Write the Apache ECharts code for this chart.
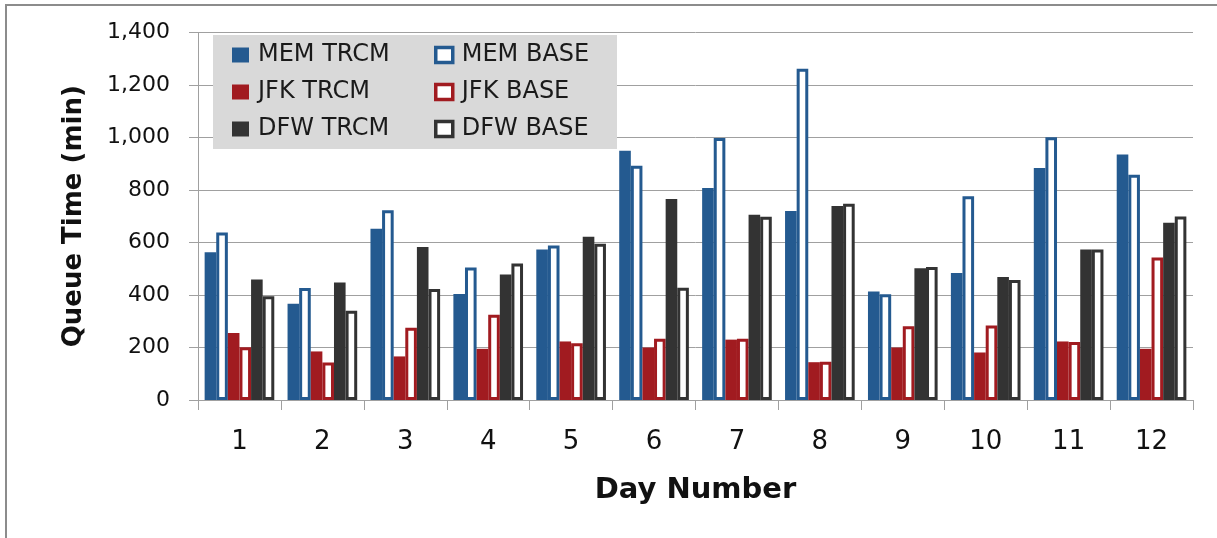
<!DOCTYPE html>
<html>
<head>
<meta charset="utf-8">
<script src="https://cdn.jsdelivr.net/npm/echarts@6/dist/echarts.min.js"></script>
<style>html,body{margin:0;padding:0;background:#fff;}#c{width:1217px;height:538px;}</style>
</head>
<body>
<div id="c"></div>
<script>
var days = ['1','2','3','4','5','6','7','8','9','10','11','12'];
var memTrcm = [563, 367, 652, 404, 573, 950, 808, 720, 413, 484, 884, 935];
var memBase = [638, 427, 723, 505, 589, 892, 998, 1262, 403, 776, 1001, 858];
var jfkTrcm = [255, 185, 166, 195, 223, 200, 230, 144, 200, 181, 223, 195];
var jfkBase = [201, 143, 275, 325, 216, 233, 233, 146, 281, 284, 221, 543];
var dfwTrcm = [459, 448, 583, 478, 622, 766, 706, 739, 502, 469, 573, 675];
var dfwBase = [395, 340, 423, 520, 595, 428, 698, 748, 507, 457, 573, 699];
var yTicks = [0, 200, 400, 600, 800, 1000, 1200, 1400];

var BLUE = '#245a90', RED = '#a11b20', DARK = '#333333';
var FONT = 'DejaVu Sans';

function filled(name, data, color) {
  return { name: name, type: 'bar', data: data, barGap: '0%', barCategoryGap: '16%',
    itemStyle: { color: color } };
}
function outlined(name, data, color) {
  return { name: name, type: 'bar', data: data, barGap: '0%', barCategoryGap: '16%',
    itemStyle: { color: '#ffffff', borderColor: color, borderWidth: 3 } };
}
var legendText = { fontFamily: FONT, fontSize: 24, color: '#1a1a1a', lineHeight: 24, padding: [0, 0, 0, 4] };

var chart = echarts.init(document.getElementById('c'));
chart.setOption({
  animation: false,
  backgroundColor: '#ffffff',
  graphic: [
    { type: 'rect', z: -10, shape: { x: 6, y: 5, width: 1230, height: 560 },
      style: { fill: 'none', stroke: '#8c8c8c', lineWidth: 2 } },
    { type: 'rect', z: 3, shape: { x: 213, y: 35, width: 404, height: 114 },
      style: { fill: '#d9d9d9', stroke: 'none' } }
  ],
  grid: { left: 198, right: 24, top: 32.5, bottom: 138, containLabel: false },
  legend: [
    { left: 232, top: 43, orient: 'vertical', padding: 0, itemGap: 13, itemWidth: 17, itemHeight: 15,
      icon: 'rect', z: 5, textStyle: legendText,
      data: [
        { name: 'MEM TRCM', itemStyle: { color: BLUE } },
        { name: 'JFK TRCM', itemStyle: { color: RED } },
        { name: 'DFW TRCM', itemStyle: { color: DARK } }
      ] },
    { left: 434, top: 43, orient: 'vertical', padding: 0, itemGap: 13, itemWidth: 17, itemHeight: 15,
      icon: 'rect', z: 5, textStyle: legendText,
      data: [
        { name: 'MEM BASE', itemStyle: { color: '#fff', borderColor: BLUE, borderWidth: 3.5 } },
        { name: 'JFK BASE', itemStyle: { color: '#fff', borderColor: RED, borderWidth: 3.5 } },
        { name: 'DFW BASE', itemStyle: { color: '#fff', borderColor: DARK, borderWidth: 3.5 } }
      ] }
  ],
  xAxis: {
    type: 'category', data: days,
    name: 'Day Number', nameLocation: 'middle', nameGap: 76,
    nameTextStyle: { fontFamily: FONT, fontWeight: 'bold', fontSize: 29, color: '#111' },
    axisLine: { lineStyle: { color: '#a0a0a0', width: 1 } },
    axisTick: { show: true, length: 10, lineStyle: { color: '#a0a0a0' } },
    axisLabel: { fontFamily: FONT, fontSize: 26, color: '#111', margin: 29 }
  },
  yAxis: {
    type: 'value', min: yTicks[0], max: yTicks[yTicks.length - 1], interval: 200,
    name: 'Queue Time (min)', nameLocation: 'middle', nameGap: 111, nameRotate: 90,
    nameTextStyle: { fontFamily: FONT, fontWeight: 'bold', fontSize: 26, color: '#111' },
    axisLine: { show: true, lineStyle: { color: '#a0a0a0', width: 1 } },
    axisTick: { show: true, length: 9, lineStyle: { color: '#a0a0a0' } },
    splitLine: { lineStyle: { color: '#a0a0a0', width: 1 } },
    axisLabel: { fontFamily: FONT, fontSize: 22, color: '#111', margin: 28,
      formatter: function (v) { return v.toLocaleString('en-US'); } }
  },
  series: [
    filled('MEM TRCM', memTrcm, BLUE),
    outlined('MEM BASE', memBase, BLUE),
    filled('JFK TRCM', jfkTrcm, RED),
    outlined('JFK BASE', jfkBase, RED),
    filled('DFW TRCM', dfwTrcm, DARK),
    outlined('DFW BASE', dfwBase, DARK)
  ]
});
</script>
</body>
</html>
